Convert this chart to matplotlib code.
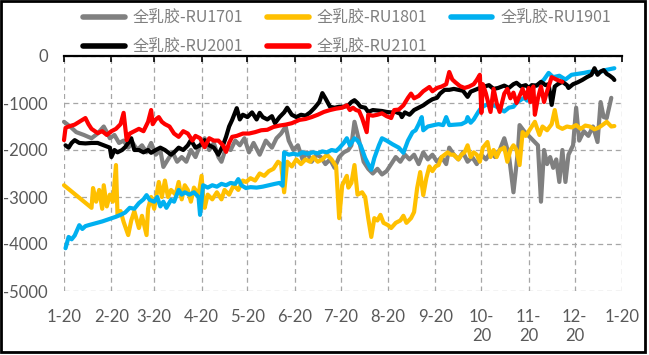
import matplotlib
matplotlib.use("Agg")
import matplotlib.pyplot as plt
from matplotlib.patches import Rectangle

# ---- data: (days after Jan-20, spread value) ----
ru1701 = [(0,-1400),(4,-1500),(8,-1620),(13,-1680),(18,-1750),(22,-1650),(26,-1500),(28,-1620),(30,-1750),(33,-1680),
          (36,-1850),(39,-1800),(42,-1950),(45,-1850),(48,-2000),(51,-1900),(54,-2050),(57,-1850),(60,-2100),(63,-2000),
          (65,-2360),(68,-2200),(71,-2050),(74,-2250),(77,-2150),(80,-2250),(83,-2000),(86,-2150),(89,-1900),(92,-1750),
          (95,-2000),(98,-1850),(101,-2150),(103,-2250),(106,-1950),(109,-2000),(112,-1800),(115,-1900),(118,-1750),(121,-2050),
          (124,-1850),(128,-2100),(132,-1800),(136,-1950),(139,-1750),(142,-1650),(145,-1500),(147,-1800),(150,-2000),(153,-1900),
          (156,-2200),(159,-2050),(162,-2250),(165,-2100),(168,-2150),(171,-2300),(174,-2200),(177,-2380),(180,-2150),(183,-2050),
          (186,-2000),(188,-1900),(190,-1400),(193,-1800),(196,-2250),(199,-2400),(202,-2500),(205,-2400),(208,-2520),(211,-2450),
          (214,-2300),(217,-2150),(220,-2250),(223,-2100),(226,-2200),(229,-2100),(232,-2300),(235,-2050),(238,-2200),(241,-2100),
          (244,-2250),(247,-2150),(250,-2300),(252,-1950),(255,-2100),(258,-2200),(261,-2050),(264,-2250),(267,-2150),(270,-2300),
          (273,-2100),(276,-2200),(279,-2050),(282,-2150),(285,-2000),(288,-1750),(291,-2100),(294,-2900),(297,-2000),(298,-1470),
          (301,-1600),(304,-1700),(307,-1800),(310,-1900),(312,-3100),(314,-2000),(316,-2300),(318,-2150),(320,-2380),(322,-2200),
          (324,-2680),(326,-2000),(328,-2680),(330,-2100),(333,-1900),(335,-1100),(337,-1800),(340,-1600),(343,-1700),(346,-1500),
          (349,-1830),(351,-980),(353,-1300),(355,-1320),(358,-890)]

ru1801 = [(0,-2750),(18,-3230),(19,-2810),(21,-3100),(23,-2850),(25,-3250),(26,-2750),(28,-3200),(30,-2950),(32,-3100),
          (34,-2320),(35,-3380),(37,-3300),(39,-3530),(42,-3810),(44,-3500),(46,-3300),(49,-3660),(51,-3400),(54,-3810),
          (55,-3250),(57,-3000),(59,-3250),(62,-2680),(64,-3000),(66,-2650),(68,-3000),(70,-2850),(73,-2950),(75,-2680),
          (77,-3050),(79,-2750),(81,-2850),(83,-3100),(85,-2800),(88,-2950),(90,-2550),(91,-3000),(92,-3230),(94,-2950),
          (97,-3050),(100,-2900),(103,-3050),(105,-2850),(108,-2950),(111,-2750),(114,-2850),(117,-2650),(119,-2680),(122,-2600),
          (125,-2650),(128,-2500),(131,-2550),(134,-2450),(137,-2400),(140,-2250),(142,-2300),(144,-2900),(146,-2250),(149,-2350),
          (152,-2200),(155,-2300),(158,-2200),(161,-2250),(163,-2150),(166,-2250),(169,-2200),(172,-2100),(175,-2200),(178,-2350),
          (180,-3450),(182,-2750),(185,-2550),(186,-2800),(188,-2700),(190,-2320),(192,-2950),(195,-2900),(197,-3000),(199,-3450),
          (201,-3850),(203,-3450),(205,-3500),(207,-3380),(209,-3550),(212,-3600),(214,-3660),(217,-3550),(220,-3500),(222,-3400),
          (224,-3550),(227,-3450),(229,-3320),(231,-2810),(233,-2470),(235,-2960),(237,-2600),(239,-2350),(241,-2450),(243,-2350),
          (245,-2320),(247,-2150),(249,-2100),(251,-2050),(253,-2100),(255,-2100),(258,-2200),(260,-2100),(262,-2050),(264,-1900),
          (266,-2150),(268,-2050),(270,-2100),(272,-2250),(274,-1950),(277,-1830),(279,-2150),(281,-2000),(283,-2150),(285,-2000),
          (288,-1950),(290,-2250),(292,-2000),(294,-1900),(296,-2000),(298,-2320),(300,-1620),(302,-1700),(305,-1550),(308,-1400),
          (311,-1680),(313,-1500),(316,-1580),(319,-1450),(321,-1150),(323,-1500),(326,-1550),(329,-1500),(332,-1520),(335,-1470),
          (338,-1550),(341,-1480),(344,-1500),(347,-1560),(350,-1520),(353,-1450),(355,-1400),(358,-1500),(360,-1490)]

ru1901 = [(1,-4090),(3,-3850),(5,-3900),(7,-3820),(10,-3600),(12,-3680),(14,-3620),(16,-3600),(25,-3520),(34,-3420),
          (37,-3380),(40,-3330),(43,-3230),(46,-3250),(49,-3130),(52,-3050),(54,-2960),(56,-3060),(59,-3100),(61,-3000),
          (63,-3200),(65,-3100),(67,-3230),(70,-3060),(72,-3100),(75,-2850),(77,-2950),(79,-2900),(82,-2950),(85,-2900),
          (88,-3000),(89,-3380),(91,-2750),(94,-2800),(97,-2750),(100,-2780),(103,-2720),(106,-2750),(109,-2700),(112,-2720),
          (114,-2620),(116,-2750),(119,-2810),(122,-2790),(126,-2800),(130,-2780),(134,-2750),(138,-2720),(141,-2700),(143,-2760),
          (144,-2050),(147,-2100),(150,-2080),(153,-2100),(156,-2050),(159,-2080),(163,-2050),(166,-2070),(169,-2030),(172,-2050),
          (175,-2000),(178,-2020),(180,-1960),(183,-1850),(185,-1750),(187,-1900),(190,-1750),(192,-1800),(194,-1900),(197,-2170),
          (199,-2300),(201,-2420),(203,-2170),(206,-1900),(208,-1750),(211,-1800),(215,-1880),(219,-1950),(222,-2060),(225,-1800),
          (228,-1620),(230,-1580),(232,-1450),(234,-1300),(235,-1580),(238,-1500),(242,-1470),(245,-1450),(248,-1470),(250,-1300),
          (252,-1470),(256,-1460),(260,-1450),(263,-1400),(264,-1300),(266,-1420),(268,-1350),(271,-1190),(273,-1100),(276,-1040),
          (279,-1040),(282,-1060),(285,-1120),(288,-1180),(291,-1100),(294,-1080),(296,-1000),(298,-950),(301,-890),(303,-950),
          (306,-700),(308,-640),(311,-600),(314,-500),(317,-360),(320,-450),(324,-420),(328,-500),(332,-400),(336,-380),
          (340,-360),(343,-340),(346,-330),(350,-350),(354,-300),(357,-280),(360,-260)]

ru2001 = [(1,-1900),(3,-1950),(5,-1850),(7,-1790),(10,-1850),(14,-1860),(18,-1850),(22,-1850),(26,-1900),(30,-1950),
          (31,-2150),(33,-2000),(35,-2050),(38,-2000),(40,-1940),(42,-1850),(44,-1750),(46,-2000),(49,-2000),(52,-2050),
          (55,-2000),(57,-2060),(60,-2000),(63,-1950),(66,-2000),(70,-2100),(72,-2050),(75,-1950),(78,-2000),(81,-1900),
          (83,-1790),(86,-1950),(89,-1900),(92,-1790),(95,-1900),(98,-1950),(101,-2100),(104,-1900),(106,-1720),(108,-1500),
          (110,-1360),(113,-1110),(115,-1350),(117,-1250),(120,-1300),(123,-1200),(126,-1350),(128,-1210),(130,-1300),(133,-1350),
          (136,-1280),(138,-1430),(141,-1300),(144,-1200),(146,-1100),(149,-1250),(152,-1300),(155,-1250),(158,-1270),(161,-1200),
          (164,-1100),(167,-980),(169,-790),(171,-900),(174,-1080),(177,-1100),(180,-1080),(183,-1080),(186,-1050),(188,-980),
          (190,-940),(192,-1000),(194,-1080),(197,-1100),(199,-1190),(202,-1150),(205,-1160),(208,-1170),(211,-1190),(214,-1200),
          (217,-1190),(220,-1230),(221,-1300),(223,-1200),(226,-1250),(229,-1150),(232,-1100),(235,-1050),(238,-980),(241,-920),
          (244,-890),(246,-800),(249,-720),(252,-720),(255,-700),(258,-720),(261,-740),(264,-870),(266,-760),(269,-720),
          (272,-680),(275,-650),(278,-620),(281,-700),(284,-680),(288,-630),(291,-680),(294,-600),(296,-570),(299,-650),
          (302,-620),(304,-680),(306,-620),(309,-630),(312,-550),(315,-620),(317,-600),(319,-1040),(321,-650),(323,-600),
          (326,-550),(329,-620),(330,-680),(333,-600),(336,-560),(339,-510),(342,-450),(345,-400),(347,-260),(349,-400),
          (351,-330),(353,-300),(355,-380),(357,-420),(359,-470),(360,-510)]

ru2101 = [(0,-1790),(1,-1530),(3,-1500),(7,-1460),(10,-1400),(14,-1320),(16,-1450),(18,-1550),(22,-1640),(25,-1600),
          (28,-1680),(31,-1600),(34,-1550),(37,-1450),(39,-1210),(41,-1790),(43,-1650),(46,-1600),(49,-1550),(52,-1600),
          (55,-1400),(57,-1150),(58,-1450),(60,-1350),(62,-1300),(64,-1400),(66,-1450),(69,-1500),(72,-1650),(75,-1720),
          (78,-1600),(81,-1650),(84,-1800),(86,-1700),(89,-1750),(92,-1940),(95,-1750),(98,-1800),(101,-1800),(104,-1900),
          (106,-2040),(108,-1850),(110,-1720),(113,-1700),(117,-1650),(121,-1650),(125,-1620),(129,-1580),(133,-1570),(137,-1510),
          (141,-1480),(145,-1460),(149,-1430),(154,-1360),(158,-1340),(162,-1300),(166,-1250),(170,-1190),(174,-1150),(178,-1120),
          (182,-1100),(185,-1050),(187,-1150),(189,-1100),(191,-1150),(193,-1170),(195,-1320),(198,-1620),(199,-1250),(202,-1270),
          (205,-1250),(208,-1220),(211,-1280),(214,-1320),(216,-1150),(219,-1140),(222,-1050),(225,-890),(227,-800),(229,-900),
          (232,-850),(235,-750),(239,-660),(241,-750),(244,-680),(247,-650),(250,-600),(252,-340),(254,-500),(256,-560),
          (259,-640),(262,-680),(265,-650),(268,-600),(270,-510),(272,-400),(273,-1210),(274,-600),(276,-800),(279,-1190),
          (281,-700),(283,-1000),(285,-1190),(288,-800),(290,-700),(292,-900),(294,-780),(296,-1000),(298,-850),(300,-700),
          (302,-900),(304,-680),(305,-980),(307,-650),(308,-1250),(310,-900),(312,-650),(314,-980),(316,-750),(319,-450),
          (322,-500),(326,-550)]

series_names = ["全乳胶-RU1701", "全乳胶-RU1801", "全乳胶-RU1901", "全乳胶-RU2001", "全乳胶-RU2101"]
series_data = [ru1701, ru1801, ru1901, ru2001, ru2101]
series_colors = ["#808080", "#FFC000", "#00B0F0", "#000000", "#FF0000"]

tick_days = [0, 31, 59, 90, 120, 151, 181, 212, 243, 273, 304, 334, 365]
tick_labels = ["1-20", "2-20", "3-20", "4-20", "5-20", "6-20", "7-20", "8-20", "9-20",
               "10-\n20", "11-\n20", "12-\n20", "1-20"]
y_ticks = [0, -1000, -2000, -3000, -4000, -5000]
y_labels = ["0", "-1000", "-2000", "-3000", "-4000", "-5000"]

# ---- figure ----
W, H = 649, 355
fig = plt.figure(figsize=(W / 100, H / 100), dpi=100)
ax = fig.add_axes([64 / W, 1 - 291 / H, (622 - 64) / W, (291 - 56) / H])

lines = []
for data, name, col in zip(series_data, series_names, series_colors):
    d = [p[0] for p in data]
    v = [p[1] for p in data]
    ln, = ax.plot(d, v, color=col, lw=3.0, label=name, solid_joinstyle="round",
                  solid_capstyle="round", clip_on=False)
    lines.append(ln)

ax.set_xlim(0, 365)
ax.set_ylim(-5000, 0)
ax.set_xticks(tick_days)
ax.set_xticklabels(tick_labels, fontsize=12, color="#595959", family="Lato", linespacing=1.2)
ax.set_yticks(y_ticks)
ax.set_yticklabels(y_labels, fontsize=12, color="#595959", family="Lato")

ax.grid(True, color="#A6A6A6", lw=0.9, ls=(0, (4, 3)))
ax.set_axisbelow(True)
for s in ["left", "right", "bottom"]:
    ax.spines[s].set_visible(False)
ax.spines["top"].set_color("black")
ax.spines["top"].set_linewidth(1.6)
ax.tick_params(axis="x", top=True, bottom=False, labeltop=False, labelbottom=True,
               direction="in", length=4, width=1.2, color="black", pad=13)
ax.tick_params(axis="y", left=False, pad=8)

# legend: rows 1701/1801/1901 then 2001/2101
order = [0, 3, 1, 4, 2]
leg = fig.legend([lines[i] for i in order], [series_names[i] for i in order],
                 loc="upper left", bbox_to_anchor=(83 / W, 1 - 10 / H), ncol=3,
                 frameon=False, prop={"family": ["Noto Sans CJK SC", "DejaVu Sans"], "size": 11.5},
                 handlelength=2.6, handletextpad=0.5, columnspacing=1.5,
                 labelspacing=0.75, borderpad=0, borderaxespad=0)
for t in leg.get_texts():
    t.set_color("#7F7F7F")
for h in leg.legend_handles:
    h.set_linewidth(4)

fig.patches.append(Rectangle((1 / W, 1 - 352 / H), 644 / W, 351 / H, transform=fig.transFigure,
                             fill=False, edgecolor="black", lw=2))

fig.savefig("out.png", dpi=100)
